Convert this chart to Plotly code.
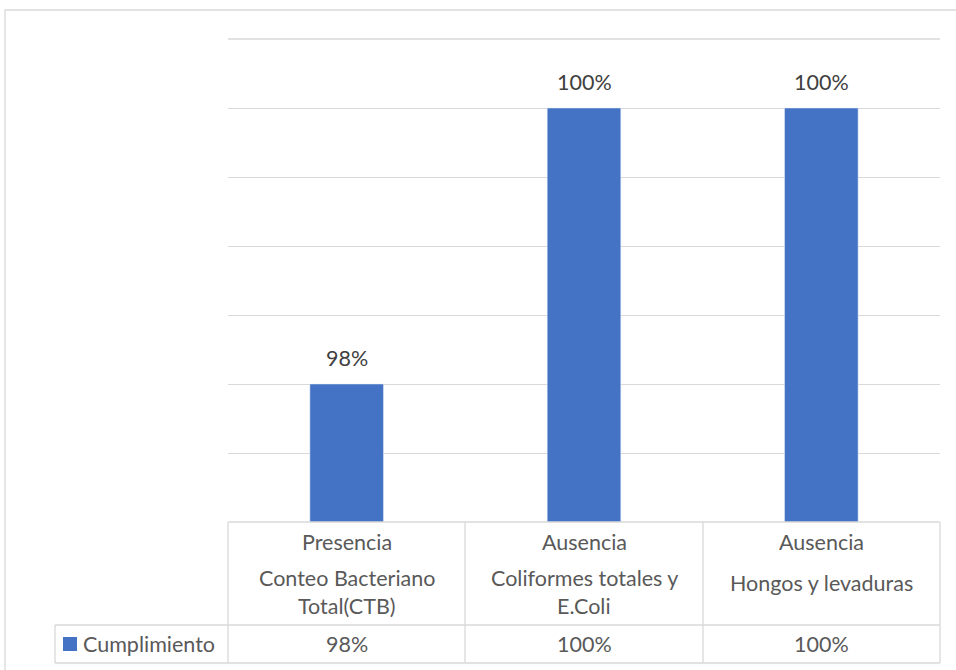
import plotly.graph_objects as go

# Datos del gráfico
tipo = ["Presencia", "Ausencia", "Ausencia"]
parametro = [["Conteo Bacteriano", "Total(CTB)"],
             ["Coliformes totales y", "E.Coli"],
             ["Hongos y levaduras"]]
cumplimiento = [98, 100, 100]
serie = "Cumplimiento"
y_min, y_max, y_paso = 97, 100.5, 0.5

W, H = 956, 670
L, R, T, B = 228, 940, 39, 522  # área de trazado en píxeles

def px(x):
    return (x - L) / (R - L)

def py(y):
    return (B - y) / (B - T)

FONT = "Lato"
AZUL = "#4472C4"
GRIS_LINEA = "#d9d9d9"
TXT = "#595959"
TAM = 21.5

cats = [f"c{i}" for i in range(len(cumplimiento))]

fig = go.Figure(go.Bar(
    x=cats, y=cumplimiento, base=0, marker_color=AZUL, width=0.31,
    showlegend=False,
))

shapes = []
def linea(x0, y0, x1, y1):
    shapes.append(dict(type="line", xref="paper", yref="paper",
                       x0=px(x0), y0=py(y0), x1=px(x1), y1=py(y1),
                       line=dict(color=GRIS_LINEA, width=1.3)))

# Marco exterior del gráfico
shapes.append(dict(type="rect", xref="paper", yref="paper",
                   x0=px(5), y0=py(10), x1=px(W + 5), y1=py(H + 5),
                   line=dict(color=GRIS_LINEA, width=1.3)))

# Tabla de datos
cols = [228, 465, 703, 940]
for xc in cols:
    linea(xc, 522, xc, 663)
linea(55, 625, 55, 663)
linea(228, 522, 940, 522)
linea(55, 625, 940, 625)
linea(55, 663, 940, 663)
# Línea de cuadrícula superior
linea(228, 39, 940, 39)

# Símbolo de leyenda
shapes.append(dict(type="rect", xref="paper", yref="paper",
                   x0=px(63), y0=py(651), x1=px(77), y1=py(637),
                   fillcolor=AZUL, line=dict(width=0)))

annotations = []
def texto(xref, x, y, t, anchor="center"):
    annotations.append(dict(xref=xref, yref="paper", x=x, y=py(y), text=t,
                            showarrow=False, xanchor=anchor, yanchor="middle",
                            font=dict(family=FONT, size=TAM, color=TXT)))

# Etiquetas de valor sobre las barras
for c, v in zip(cats, cumplimiento):
    annotations.append(dict(xref="x", yref="y", x=c, y=v, text=f"{v}%",
                            showarrow=False, yanchor="middle", yshift=26,
                            font=dict(family=FONT, size=TAM, color="#404040")))

for c, tp, par, v in zip(cats, tipo, parametro, cumplimiento):
    texto("x", c, 542, tp)
    ys = [578, 606] if len(par) == 2 else [583]
    for yy, linea_txt in zip(ys, par):
        texto("x", c, yy, linea_txt)
    texto("x", c, 644, f"{v}%")

texto("paper", px(81), 644, serie, anchor="left")

fig.update_layout(
    width=W, height=H,
    margin=dict(l=L, r=W - R, t=T, b=H - B),
    paper_bgcolor="white", plot_bgcolor="white",
    xaxis=dict(showticklabels=False, showline=False, ticks="", showgrid=False),
    yaxis=dict(range=[y_min, y_max], dtick=y_paso, tick0=y_min,
               showticklabels=False, ticks="", showline=False,
               gridcolor=GRIS_LINEA, gridwidth=1.3, zeroline=False),
    shapes=shapes, annotations=annotations,
)

fig.write_html("out.html")
